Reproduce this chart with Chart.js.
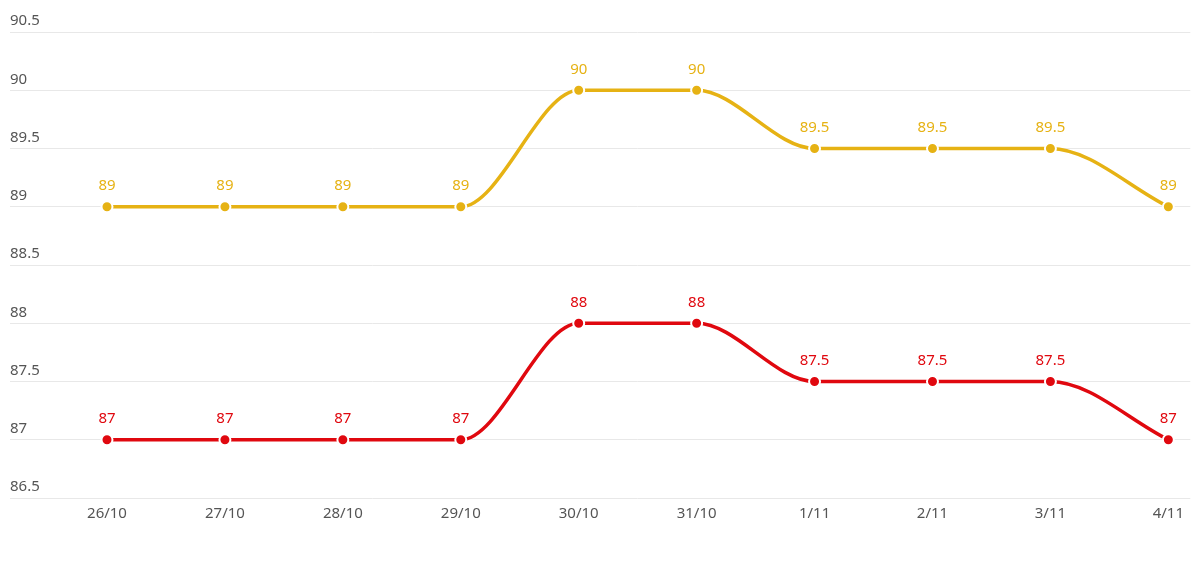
<!DOCTYPE html>
<html>
<head>
<meta charset="utf-8">
<script src="https://cdn.jsdelivr.net/npm/chart.js@4/dist/chart.umd.min.js"></script>
<style>
  html, body { margin: 0; padding: 0; background: #fff; }
  #wrap { width: 1191px; height: 562px; }
</style>
</head>
<body>
<div id="wrap"><canvas id="priceChart"></canvas></div>
<script>
// dữ liệu
const categories = ["26/10", "27/10", "28/10", "29/10", "30/10", "31/10", "1/11", "2/11", "3/11", "4/11"];
const sellValues = [89, 89, 89, 89, 90, 90, 89.5, 89.5, 89.5, 89];
const buyValues = [87, 87, 87, 87, 88, 88, 87.5, 87.5, 87.5, 87];
const yMin = 86.5;
const yMax = 90.5;
const yStep = 0.5;

const gridColor = "#e8e8e8";
const tickColor = "#555555";
const fontFamily = "'Noto Sans', 'Open Sans', sans-serif";

// plugin vẽ nhãn giá trị phía trên mỗi điểm
const valueLabels = {
  id: "valueLabels",
  afterDatasetsDraw(chart) {
    const ctx = chart.ctx;
    ctx.save();
    ctx.font = "15px " + fontFamily;
    ctx.textAlign = "center";
    ctx.textBaseline = "middle";
    chart.data.datasets.forEach((ds, i) => {
      const meta = chart.getDatasetMeta(i);
      ctx.fillStyle = ds.borderColor;
      meta.data.forEach((pt, j) => {
        ctx.fillText(String(ds.data[j]), pt.x, pt.y - 21);
      });
    });
    ctx.restore();
  },
};

const priceChart = new Chart(document.getElementById("priceChart"), {
  type: "line",
  data: {
    labels: categories,
    datasets: [
      {
        label: "Bán",
        data: sellValues,
        borderColor: "#e6b214",
        backgroundColor: "#e6b214",
        pointBorderColor: "#ffffff",
      },
      {
        label: "Mua",
        data: buyValues,
        borderColor: "#e0080f",
        backgroundColor: "#e0080f",
        pointBorderColor: "#ffffff",
      },
    ],
  },
  options: {
    responsive: true,
    maintainAspectRatio: false,
    animation: false,
    layout: { padding: { top: 32, left: 10, right: 0, bottom: 32 } },
    elements: {
      line: { borderWidth: 3.5, cubicInterpolationMode: "monotone" },
      point: { radius: 5.5, borderWidth: 2, hoverRadius: 5.5 },
    },
    plugins: {
      legend: { display: false },
      tooltip: { enabled: false },
    },
    scales: {
      x: {
        offset: false,
        grid: { display: false, drawTicks: false },
        border: { display: false },
        ticks: {
          color: tickColor,
          padding: 7,
          font: { family: fontFamily, size: 15 },
          maxRotation: 0,
        },
      },
      y: {
        position: "left",
        min: yMin,
        max: yMax,
        border: { display: false },
        grid: { color: gridColor, tickLength: 97 },
        ticks: {
          stepSize: yStep,
          color: tickColor,
          crossAlign: "far",
          labelOffset: -11,
          font: { family: fontFamily, size: 15 },
          callback: (v) => String(v),
        },
        afterFit(scale) {
          scale.width = 97;
        },
      },
      y2: {
        position: "right",
        min: yMin,
        max: yMax,
        border: { display: false },
        grid: { color: gridColor, tickLength: 22, drawOnChartArea: false },
        ticks: { stepSize: yStep, display: false },
        afterFit(scale) {
          scale.width = 22;
        },
      },
    },
  },
  plugins: [valueLabels],
});
</script>
</body>
</html>
